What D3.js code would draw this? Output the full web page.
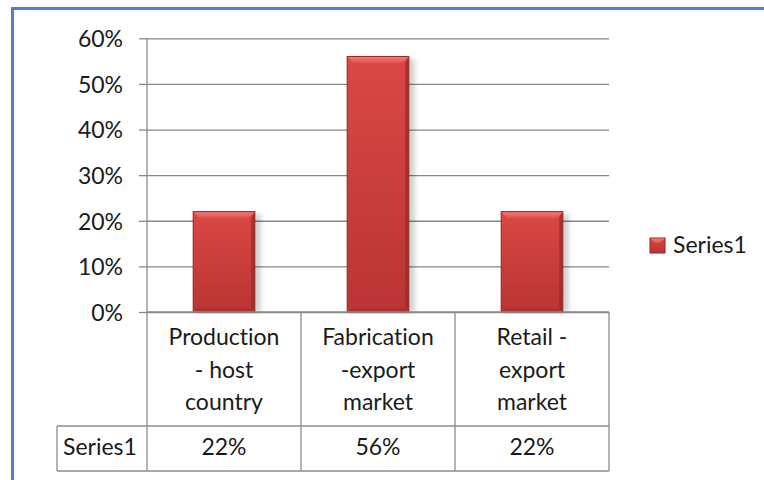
<!DOCTYPE html>
<head>
<title>Series1 chart</title>
<meta charset="utf-8">
<style>
body { margin: 0; background: #fff; }
svg { display: block; }
text { font-family: Lato, "Open Sans", sans-serif; font-size: 23px; fill: #1a1a1a; font-variant-ligatures: none; }
.grid line { stroke: #878787; stroke-width: 1.3; }
.tbl { stroke: #8c8c8c; stroke-width: 1.3; fill: none; }
</style>
</head>
<body>
<script src="https://d3js.org/d3.v7.min.js"></script>
<script>

// Data
var categories = ["Production - host country", "Fabrication -export market", "Retail - export market"];
var labelLines = [["Production", "- host", "country"], ["Fabrication", "-export", "market"], ["Retail -", "export", "market"]];
var values = [0.22, 0.56, 0.22];
var valueLabels = ["22%", "56%", "22%"];
var tickValues = [0, 0.1, 0.2, 0.3, 0.4, 0.5, 0.6];
var seriesName = "Series1";

var width = 764, height = 480;
var plotLeft = 147, plotRight = 609, plotTop = 38.3, plotBottom = 312;
var tableLeft = 57, tableMid = 426, tableBottom = 471;

var svg = d3.select("body").append("svg")
    .attr("width", width)
    .attr("height", height);

// Scales
var x = d3.scaleBand()
    .domain(categories)
    .range([plotLeft, plotRight])
    .paddingInner(0.6)
    .paddingOuter(0.3);
var col = d3.scaleBand()
    .domain(categories)
    .range([plotLeft, plotRight]);
var y = d3.scaleLinear()
    .domain([0, 0.6])
    .range([plotBottom, plotTop]);

// Gradients
var defs = svg.append("defs");
var g1 = defs.append("linearGradient").attr("id", "barFill")
    .attr("x1", 0).attr("y1", 0).attr("x2", 0).attr("y2", 1);
g1.append("stop").attr("offset", "0%").attr("stop-color", "#db4744");
g1.append("stop").attr("offset", "100%").attr("stop-color", "#b93533");
var g2 = defs.append("linearGradient").attr("id", "topFill")
    .attr("x1", 0).attr("y1", 0).attr("x2", 0).attr("y2", 1);
g2.append("stop").attr("offset", "0%").attr("stop-color", "#f07a76");
g2.append("stop").attr("offset", "100%").attr("stop-color", "#e0524f");
var sh = defs.append("filter").attr("id", "shadow")
    .attr("x", "-20%").attr("y", "-5%").attr("width", "150%").attr("height", "110%");
sh.append("feGaussianBlur").attr("stdDeviation", 2.5);

// Frame
svg.append("line").attr("x1", 12.5).attr("x2", 12.5).attr("y1", 7).attr("y2", height)
    .attr("stroke", "#4f81bd").attr("stroke-width", 3);
svg.append("line").attr("x1", 11).attr("x2", width).attr("y1", 8.5).attr("y2", 8.5)
    .attr("stroke", "#4f81bd").attr("stroke-width", 3);

// Gridlines and ticks
svg.append("g")
    .attr("class", "grid")
    .attr("transform", "translate(" + plotLeft + ",0)")
    .call(d3.axisLeft(y).tickValues(tickValues).tickSize(8).tickFormat(d3.format(".0%")))
    .call(function(g) { g.select(".domain").remove(); })
    .call(function(g) {
      g.selectAll(".tick").append("line")
        .attr("x2", plotRight - plotLeft);
      g.selectAll(".tick text")
        .attr("x", -24)
        .attr("dy", "0.36em")
        .style("font-size", "23px")
        .style("font-family", "Lato, sans-serif")
        .attr("fill", "#1a1a1a");
    });

// Bars
var bw = x.bandwidth(), bev = 6;
var bars = svg.selectAll(".bar")
    .data(values)
  .enter().append("g")
    .attr("class", "bar");

bars.append("rect")
    .attr("x", function(d, i) { return x(categories[i]) + 3; })
    .attr("y", function(d) { return y(d) + 2; })
    .attr("width", bw + 3)
    .attr("height", function(d) { return plotBottom - y(d) - 2; })
    .attr("fill", "#000")
    .attr("opacity", 0.18)
    .attr("filter", "url(#shadow)");

bars.append("rect")
    .attr("x", function(d, i) { return x(categories[i]); })
    .attr("y", function(d) { return y(d); })
    .attr("width", bw)
    .attr("height", function(d) { return plotBottom - y(d); })
    .attr("fill", "url(#barFill)")
    .attr("stroke", "#8e2523")
    .attr("stroke-width", 1);

// top bevel
bars.append("path")
    .attr("d", function(d, i) {
      var x0 = x(categories[i]) + 0.5, x1 = x0 + bw - 1, y0 = y(d) + 0.5;
      return "M" + x0 + "," + y0 + "L" + x1 + "," + y0 + "L" + (x1 - bev) + "," + (y0 + bev) +
             "L" + (x0 + bev) + "," + (y0 + bev) + "Z";
    })
    .attr("fill", "url(#topFill)");

// right edge bevel
bars.append("path")
    .attr("d", function(d, i) {
      var x1 = x(categories[i]) + bw - 0.5, y0 = y(d) + 0.5;
      return "M" + x1 + "," + y0 + "L" + x1 + "," + (plotBottom - 0.5) + "L" + (x1 - 3) + "," + (plotBottom - 4) +
             "L" + (x1 - 3) + "," + (y0 + bev) + "Z";
    })
    .attr("fill", "#9e2b29")
    .attr("opacity", 0.8);

// bottom bevel
bars.append("path")
    .attr("d", function(d, i) {
      var x0 = x(categories[i]) + 0.5, x1 = x0 + bw - 1;
      return "M" + x0 + "," + plotBottom + "L" + x1 + "," + plotBottom + "L" + (x1 - 4) + "," + (plotBottom - 4) +
             "L" + (x0 + 4) + "," + (plotBottom - 4) + "Z";
    })
    .attr("fill", "#a62f2d")
    .attr("opacity", 0.7);

// Data table
var tbl = svg.append("g");
tbl.append("line").attr("class", "tbl")
    .attr("x1", plotLeft).attr("x2", plotRight).attr("y1", plotBottom).attr("y2", plotBottom);
tbl.append("line").attr("class", "tbl")
    .attr("x1", tableLeft).attr("x2", plotRight).attr("y1", tableMid).attr("y2", tableMid);
tbl.append("line").attr("class", "tbl")
    .attr("x1", tableLeft).attr("x2", plotRight).attr("y1", tableBottom).attr("y2", tableBottom);
tbl.append("line").attr("class", "tbl")
    .attr("x1", tableLeft).attr("x2", tableLeft).attr("y1", tableMid).attr("y2", tableBottom);
tbl.append("line").attr("class", "tbl")
    .attr("x1", plotLeft).attr("x2", plotLeft).attr("y1", plotTop).attr("y2", tableBottom);
tbl.selectAll(".vdiv")
    .data(categories)
  .enter().append("line")
    .attr("class", "tbl")
    .attr("x1", function(d) { return col(d) + col.bandwidth(); })
    .attr("x2", function(d) { return col(d) + col.bandwidth(); })
    .attr("y1", plotBottom)
    .attr("y2", tableBottom);

// Category labels
svg.selectAll(".cat")
    .data(categories)
  .enter().append("text")
    .attr("class", "cat")
    .attr("text-anchor", "middle")
    .attr("x", function(d) { return col(d) + col.bandwidth() / 2; })
    .attr("y", 345)
    .selectAll("tspan")
    .data(function(d, i) { return labelLines[i]; })
  .enter().append("tspan")
    .attr("x", function() { var c = d3.select(this.parentNode).datum(); return col(c) + col.bandwidth() / 2; })
    .attr("dy", function(d, j) { return j === 0 ? 0 : 32.5; })
    .text(function(d) { return d; });

// Value row
svg.selectAll(".val")
    .data(valueLabels)
  .enter().append("text")
    .attr("text-anchor", "middle")
    .attr("x", function(d, i) { return col(categories[i]) + col.bandwidth() / 2; })
    .attr("y", 455)
    .text(function(d) { return d; });
svg.append("text")
    .attr("x", 63)
    .attr("y", 455)
    .text(seriesName);

// Legend
var leg = svg.append("g").attr("transform", "translate(650,238)");
leg.append("rect").attr("width", 15).attr("height", 15)
    .attr("fill", "url(#barFill)").attr("stroke", "#8e2523");
leg.append("path").attr("d", "M0.5,0.5L14.5,0.5L10,5L5,5Z").attr("fill", "url(#topFill)");
leg.append("text").attr("x", 23).attr("y", 15).text(seriesName);

</script>
</body>
</html>
